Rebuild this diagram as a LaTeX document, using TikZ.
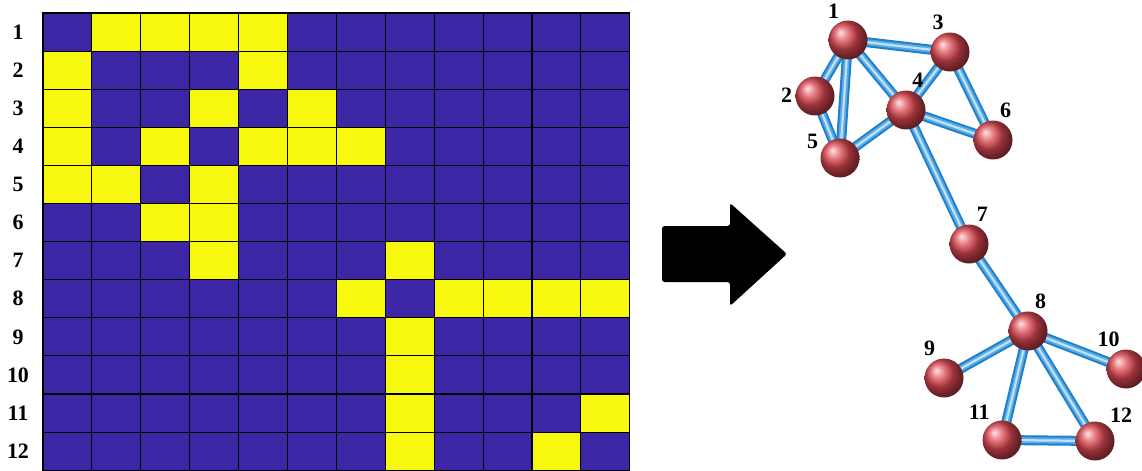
\documentclass[tikz,border=0pt]{standalone}
\usepackage{fontspec}
\setmainfont{Liberation Serif}
\usetikzlibrary{backgrounds}
\definecolor{mxBlue}{RGB}{61,38,166}
\definecolor{mxYellow}{RGB}{248,248,15}
\definecolor{mxRed}{RGB}{222,72,82}
\definecolor{mxTube}{RGB}{28,128,204}
\definecolor{mxTubeMid}{RGB}{90,170,228}
\definecolor{mxTubeLight}{RGB}{190,225,247}
\begin{document}
\begin{tikzpicture}[
  x=0.02cm, y=-0.02cm,
  font=\fontsize{12.5}{14}\selectfont\bfseries,
  cell/.style={draw=black, line width=0.6pt},
  ball/.style={circle, minimum size=0.78cm, inner sep=0pt, ball color=mxRed},
  tube/.style={line width=0.2cm, mxTube},
  tubemid/.style={line width=0.12cm, mxTubeMid},
  tubehi/.style={line width=0.045cm, mxTubeLight},
  lbl/.style={inner sep=1.5pt},
]
\useasboundingbox (0,0) rectangle (1142,470);
% adjacency matrix
\foreach \r in {1,...,12}
  \foreach \c in {1,...,12}
    \filldraw[cell, fill=mxBlue] ({43+(\c-1)*48.9},{13+(\r-1)*38.1}) rectangle ++(48.9,38.1);
\foreach \r/\c in {1/2,1/3,1/4,1/5, 2/1,2/5, 3/1,3/4,3/6, 4/1,4/3,4/5,4/6,4/7,
                   5/1,5/2,5/4, 6/3,6/4, 7/4,7/8, 8/7,8/9,8/10,8/11,8/12,
                   9/8, 10/8, 11/8,11/12, 12/8,12/11}
  \filldraw[cell, fill=mxYellow] ({43+(\c-1)*48.9},{13+(\r-1)*38.1}) rectangle ++(48.9,38.1);
% row numbers
\foreach \r in {1,...,12}
  \node (row\r) at (18,{13+(\r-0.5)*38.1}) {\r};
% arrow
\fill[black, rounded corners=1.5pt] (662,226) -- (730,226) -- (730,203) -- (787,254)
  -- (730,306) -- (730,282) -- (662,282) -- cycle;
% graph
\foreach \n/\x/\y/\a in {1/848/40/107, 2/815/96/178, 3/950/52/100, 4/906/110/80,
                         5/840/158/162, 6/993/140/78, 7/969/244/76, 8/1028/331/78,
                         9/944/378/107, 10/1126/369/100, 11/1002/440/118, 12/1095/441/52}
  \node[ball, label={[lbl]\a:\n}] (n\n) at (\x,\y) {};
\begin{scope}[on background layer]
  \fill[white] (0,0) rectangle (1142,470);
  \foreach \a/\b in {1/2,1/3,1/4,1/5,2/5,3/4,3/6,4/5,4/6,4/7,7/8,8/9,8/10,8/11,8/12,11/12} {
    \draw[tube] (n\a.center) -- (n\b.center);
    \draw[tubemid] (n\a.center) -- (n\b.center);
    \draw[tubehi] (n\a.center) -- (n\b.center);
  }
\end{scope}
\end{tikzpicture}
\end{document}
